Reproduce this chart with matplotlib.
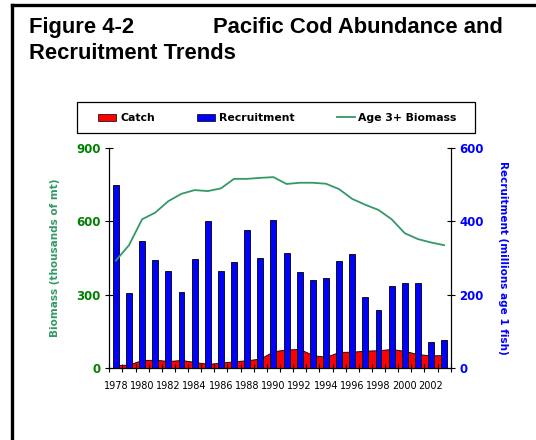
import matplotlib.pyplot as plt
from matplotlib.lines import Line2D
from matplotlib.patches import Patch, Rectangle

import numpy as np

years = list(range(1978, 2004))
catch = [12, 16, 34, 35, 30, 34, 26, 18, 23, 29, 33, 40, 70, 77, 79, 54,
         47, 67, 68, 72, 74, 79, 71, 58, 53, 54]
recruitment = [498, 206, 346, 296, 264, 209, 298, 402, 265, 289, 378, 301,
               405, 313, 262, 241, 247, 292, 311, 194, 160, 224, 233, 233,
               71, 76]
biomass = [440, 503, 609, 636, 683, 713, 728, 724, 735, 774, 774, 778,
           781, 753, 758, 758, 754, 732, 692, 668, 647, 609, 552, 528,
           514, 503]

green_line = '#339966'
green_tick = '#008000'
blue = '#0000FF'

fig = plt.figure(figsize=(5.36, 4.40), dpi=100)
W, H = 536.0, 440.0

# outer frame (left and top edges only visible)
fig.add_artist(Line2D([11.7 / W, 11.7 / W], [0, 1 - 5 / H], color='black', lw=2.4))
fig.add_artist(Line2D([11.7 / W, 1.0], [1 - 5 / H, 1 - 5 / H], color='black', lw=2.4))

# title
fs_title = 15.8
fig.text(29 / W, 1 - 33.3 / H, 'Figure 4-2', fontsize=fs_title, fontweight='bold',
         family='Liberation Sans', va='baseline')
fig.text(213 / W, 1 - 33.3 / H, 'Pacific Cod Abundance and', fontsize=fs_title,
         fontweight='bold', family='Liberation Sans', va='baseline')
fig.text(29 / W, 1 - 58.7 / H, 'Recruitment Trends', fontsize=fs_title,
         fontweight='bold', family='Liberation Sans', va='baseline')

x = np.arange(len(years))

ax1 = fig.add_axes([109.3 / W, 1 - 368.3 / H, (450.7 - 109.3) / W, (368.3 - 148) / H])
ax1.fill_between(x, catch, 0, facecolor='#FF0000', edgecolor='black', lw=0.6)
ax1.set_ylim(0, 900)
ax1.set_xlim(-0.5, len(years) - 0.5)
ax1.set_yticks([0, 300, 600, 900])

ax2 = ax1.twinx()
ax2.bar(x, recruitment, width=0.45, color=blue, edgecolor='black', lw=0.6)
ax2.set_ylim(0, 600)
ax2.set_yticks([0, 200, 400, 600])

ax3 = ax1.twinx()
ax3.plot(x, biomass, color=green_line, lw=1.3)
ax3.set_ylim(0, 900)
ax3.axis('off')

for ax in (ax1, ax2):
    ax.spines['top'].set_visible(False)
    ax.set_facecolor('none')

ax1.tick_params(axis='y', direction='inout', length=6, width=0.8, pad=3,
                colors='black', labelcolor=green_tick, labelsize=8.5)
for lab in ax1.get_yticklabels():
    lab.set_fontweight('bold')
ax2.tick_params(axis='y', direction='inout', length=6, width=0.8, pad=3,
                colors='black', labelcolor=blue, labelsize=8.5)
for lab in ax2.get_yticklabels():
    lab.set_fontweight('bold')

# x ticks at category boundaries, labels on every other year
ax1.set_xticks(np.arange(-0.5, len(years), 1.0))
ax1.set_xticklabels([])
ax1.set_xticks(x[::2], minor=True)
ax1.set_xticklabels([str(y) for y in years[::2]], minor=True, fontsize=7)
ax1.tick_params(axis='x', which='major', direction='inout', length=6, width=0.8)
ax1.tick_params(axis='x', which='minor', length=0, pad=9)

fig.text(55 / W, 1 - 257.5 / H, 'Biomass (thousands of mt)', rotation=90,
         color=green_line, fontsize=7.5, fontweight='bold', ha='center', va='center')
fig.text(502.7 / W, 1 - 257.5 / H, 'Recruitment (millions age 1 fish)', rotation=-90,
         color=blue, fontsize=7.5, fontweight='bold', ha='center', va='center')

# legend box
fig.add_artist(Rectangle((77 / W, 1 - 133 / H), (475 - 77) / W, 31.3 / H,
                         transform=fig.transFigure, facecolor='white',
                         edgecolor='black', lw=0.9))
handles = [Patch(facecolor='#FF0000', edgecolor='black', lw=0.5),
           Patch(facecolor=blue, edgecolor='black', lw=0.5),
           Line2D([], [], color=green_line, lw=1.3)]
leg = fig.legend(handles, ['Catch', 'Recruitment', 'Age 3+ Biomass'],
                 loc='center left', ncol=3,
                 bbox_to_anchor=(98.3 / W, 1 - 118.3 / H),
                 frameon=False, prop={'weight': 'bold', 'size': 7.8},
                 handlelength=1.66, handleheight=0.75, handletextpad=0.35,
                 borderpad=0, borderaxespad=0, columnspacing=3.9)

fig.savefig('out.png', dpi=100)
